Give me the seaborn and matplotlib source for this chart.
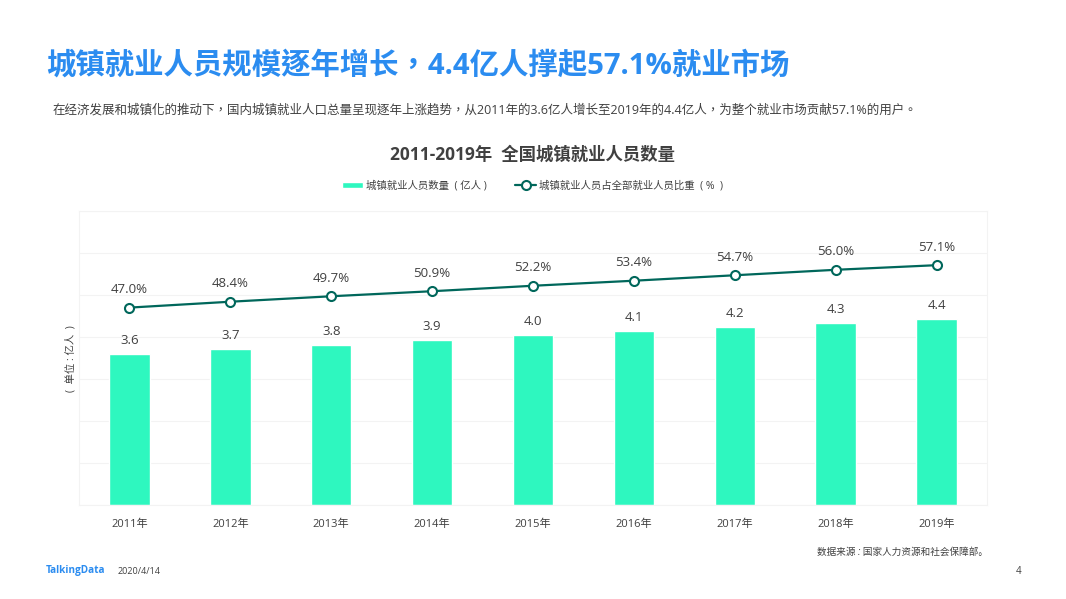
import pandas as pd
import matplotlib
matplotlib.use('Agg')
import matplotlib.pyplot as plt
import seaborn as sns

years = ['2011年', '2012年', '2013年', '2014年', '2015年', '2016年', '2017年', '2018年', '2019年']
workers = [3.59, 3.71, 3.82, 3.93, 4.04, 4.14, 4.24, 4.34, 4.42]
share = [47.0, 48.4, 49.7, 50.9, 52.2, 53.4, 54.7, 56.0, 57.1]

title = '城镇就业人员规模逐年增长，4.4亿人撑起57.1%就业市场'
subtitle = '在经济发展和城镇化的推动下，国内城镇就业人口总量呈现逐年上涨趋势，从2011年的3.6亿人增长至2019年的4.4亿人，为整个就业市场贡献57.1%的用户。'
chart_title = '2011-2019年  全国城镇就业人员数量'
bar_name = '城镇就业人员数量  ( 亿人 )'
line_name = '城镇就业人员占全部就业人员比重  ( %  )'
unit = '(  单位 : 亿人  )'
source = '数据来源 : 国家人力资源和社会保障部。'

BLUE = '#2b8cf0'
GREEN = '#2ef7bf'
DARK = '#00675b'
TEXT = '#404040'
W, H = 1066, 599
# TC font has the centred comma the reference shows
TC_FONT = ['Open Sans', 'Noto Sans CJK TC', 'DejaVu Sans']

sns.set_theme(style='white')
plt.rcParams['font.family'] = ['Open Sans', 'Noto Sans CJK SC', 'DejaVu Sans']

df = pd.DataFrame({'year': years, 'workers': workers, 'share': share})

fig = plt.figure(figsize=(W / 100, H / 100), dpi=100, facecolor='white')
# axes box in pixels: x 79-987, y 211-505
ax = fig.add_axes([79 / W, 1 - 505 / H, 908 / W, 294 / H])

sns.barplot(data=df, x='year', y='workers', color=GREEN, saturation=1, width=0.4, ax=ax, label=bar_name)
ax.set_xlim(-0.5, 8.5)
ax.set_ylim(0, 7)
ax.set_yticks(range(8))
ax.tick_params(axis='y', labelleft=False, length=0)
ax.tick_params(axis='x', length=0, labelsize=8, labelcolor=TEXT, pad=10)
ax.set_xlabel('')
ax.set_ylabel('')
ax.grid(axis='y', color='#f3f3f3', linewidth=0.8)
ax.set_axisbelow(True)
for s in ax.spines.values():
    s.set_color('#f3f3f3')
    s.set_linewidth(0.8)
ax.bar_label(ax.containers[0], fmt='%.1f', padding=5, fontsize=9.5, color=TEXT)
h1, l1 = ax.get_legend_handles_labels()
ax.get_legend().remove()

ax2 = ax.twinx()
sns.lineplot(data=df, x='year', y='share', color=DARK, linewidth=1.6, marker='o', markersize=6.5,
             markerfacecolor='white', markeredgecolor=DARK, markeredgewidth=1.5, ax=ax2, label=line_name)
ax2.set_ylim(0, 70)
ax2.set_yticks([])
ax2.set_ylabel('')
h2, l2 = ax2.get_legend_handles_labels()
ax2.get_legend().remove()
for s in ax2.spines.values():
    s.set_visible(False)
for i, v in enumerate(share):
    ax2.annotate(f'{v:.1f}%', (i, v), xytext=(0, 13), textcoords='offset points', ha='center', va='center',
                 fontsize=9.5, color=TEXT)

fig.legend(h1 + h2, l1 + l2, ncol=2, loc='center', bbox_to_anchor=(532.5 / W, 1 - 186 / H), frameon=False,
           fontsize=7.5, labelcolor=TEXT, handlelength=2, handleheight=0.6, handletextpad=0.25, columnspacing=2.8)

fig.text(46 / W, 1 - 66 / H, title, color=BLUE, fontsize=21.2, fontweight='bold', va='center', family=TC_FONT)
fig.text(53 / W, 1 - 110 / H, subtitle, color=TEXT, fontsize=9.02, va='center', family=TC_FONT)
fig.text(533 / W, 1 - 155 / H, chart_title, color=TEXT, fontsize=12.5, fontweight='bold', ha='center', va='center')
fig.text(71 / W, 1 - 359 / H, unit, color=TEXT, fontsize=7.5, rotation=90, ha='center', va='center')
fig.text(817 / W, 1 - 552 / H, source, color=TEXT, fontsize=6.9, style='italic', va='center')
fig.text(46 / W, 1 - 571 / H, 'TalkingData', color=BLUE, fontsize=7.2, fontweight='bold', va='center')
fig.text(118 / W, 1 - 572 / H, '2020/4/14', color=TEXT, fontsize=6.5, va='center')
fig.text(1019 / W, 1 - 571 / H, '4', color=TEXT, fontsize=7, ha='center', va='center')

fig.savefig('out.png', dpi=100)
